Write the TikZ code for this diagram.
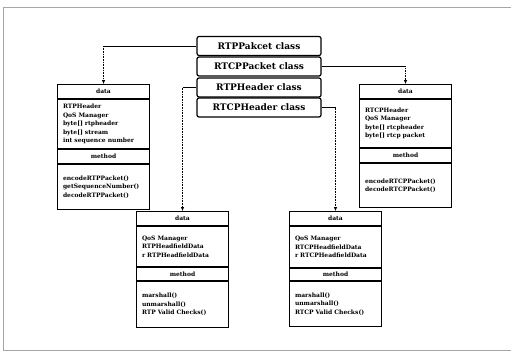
\documentclass[tikz,border=0pt]{standalone}
\usepackage{fontspec}
\setmainfont{DejaVu Serif}
\usepackage{tikz}
\usetikzlibrary{arrows.meta,positioning}

\begin{document}
\begin{tikzpicture}[
  x=1pt, y=-1pt,
  node distance=0pt,
  classbox/.style={draw, line width=1.2pt, rounded corners=2pt, minimum width=124pt, minimum height=19pt, inner sep=0pt, font=\fontsize{9}{11}\selectfont\bfseries},
  headbox/.style={draw, line width=1pt, minimum width=92pt, minimum height=14pt, inner sep=0pt, font=\fontsize{6}{7}\selectfont\bfseries},
  bodybox/.style={draw, line width=1pt, text width=81pt, inner xsep=5.5pt, inner ysep=0pt, align=left, font=\fontsize{6}{8.4}\selectfont\bfseries},
  link/.style={line width=0.6pt},
  droplink/.style={line width=0.6pt, densely dotted, -{Latex[length=4pt,width=3.5pt]}}
]
  \useasboundingbox (0,0) rectangle (511,353);
  % scan frame
  \draw[gray!70, line width=0.6pt] (511,7) -- (3,7) -- (3,350) -- (511,350);

  % Classes
  \node[classbox] (P1) at (259,46) {RTPPakcet class};
  \node[classbox] (P2) at (259,66.5) {RTCPPacket class};
  \node[classbox] (P3) at (259,87.5) {RTPHeader class};
  \node[classbox] (P4) at (259,107.5) {RTCPHeader class};

  % RTPPakcet members
  \node[headbox, anchor=north west] (Lhead) at (57,84) {data};
  \node[bodybox, minimum height=49pt, below=of Lhead] (Ldata) {RTPHeader\\QoS Manager\\byte[] rtpheader\\byte[] stream\\int sequence number};
  \node[headbox, below=of Ldata] (Lmhead) {method};
  \node[bodybox, minimum height=45pt, below=of Lmhead] (Lmeth) {encodeRTPPacket()\\getSequenceNumber()\\decodeRTPPacket()};

  % RTCPPacket members
  \node[headbox, anchor=north west] (Rhead) at (359,84) {data};
  \node[bodybox, minimum height=48pt, below=of Rhead] (Rdata) {RTCPHeader\\QoS Manager\\byte[] rtcpheader\\byte[] rtcp packet};
  \node[headbox, below=of Rdata] (Rmhead) {method};
  \node[bodybox, minimum height=44pt, below=of Rmhead] (Rmeth) {encodeRTCPPacket()\\decodeRTCPPacket()};

  % RTPHeader members
  \node[headbox, anchor=north west] (Bhead) at (136,211) {data};
  \node[bodybox, minimum height=40pt, below=of Bhead] (Bdata) {QoS Manager\\RTPHeadfieldData\\r RTPHeadfieldData};
  \node[headbox, minimum height=13pt, below=of Bdata] (Bmhead) {method};
  \node[bodybox, minimum height=46pt, below=of Bmhead] (Bmeth) {marshall()\\unmarshall()\\RTP Valid Checks()};

  % RTCPHeader members
  \node[headbox, anchor=north west] (Chead) at (289,211) {data};
  \node[bodybox, minimum height=41pt, below=of Chead] (Cdata) {QoS Manager\\RTCPHeadfieldData\\r RTCPHeadfieldData};
  \node[headbox, minimum height=12pt, below=of Cdata] (Cmhead) {method};
  \node[bodybox, minimum height=45pt, below=of Cmhead] (Cmeth) {marshall()\\unmarshall()\\RTCP Valid Checks()};

  % Links
  \coordinate (k1) at (Lhead.north |- P1.west);
  \coordinate (k2) at (Rhead.north |- P2.east);
  \coordinate (k3) at (Bhead.north |- P3.west);
  \coordinate (k4) at (Chead.north |- P4.east);
  \draw[link] (P1.west) -- (k1);
  \draw[droplink] (k1) -- (Lhead.north);
  \draw[link] (P2.east) -- (k2);
  \draw[droplink] (k2) -- (Rhead.north);
  \draw[link] (P3.west) -- (k3);
  \draw[droplink] (k3) -- (Bhead.north);
  \draw[link] (P4.east) -- (k4);
  \draw[droplink] (k4) -- (Chead.north);
\end{tikzpicture}
\end{document}
